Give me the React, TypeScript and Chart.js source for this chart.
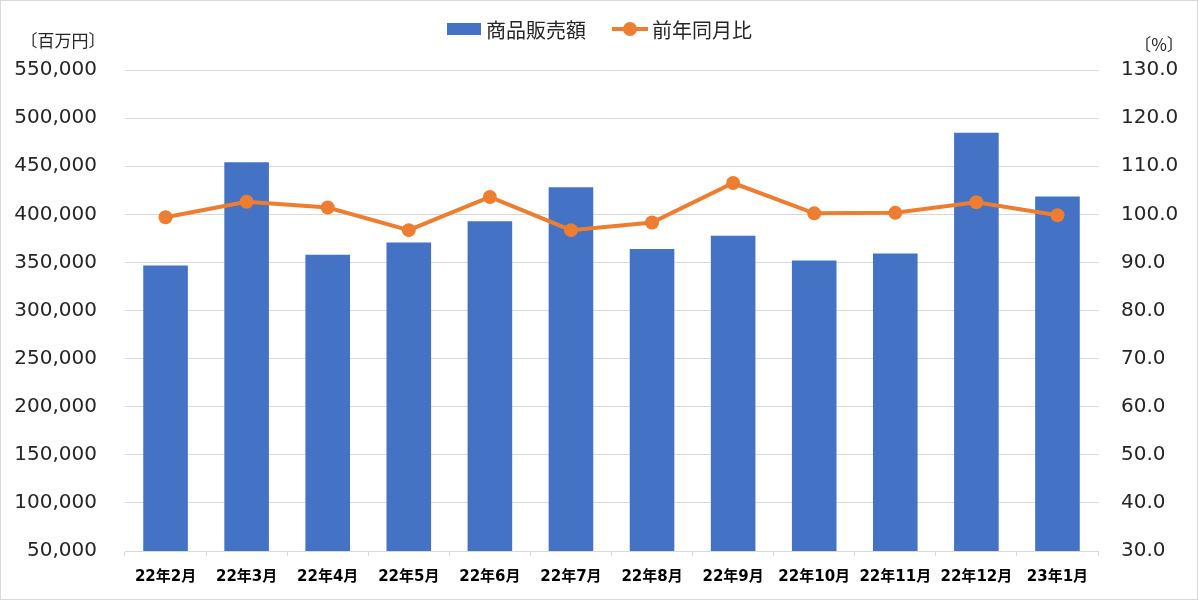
import React, { useEffect, useRef } from "react";
import { Chart, registerables } from "chart.js";

Chart.register(...registerables);

const categories = ["22年2月", "22年3月", "22年4月", "22年5月", "22年6月", "22年7月", "22年8月", "22年9月", "22年10月", "22年11月", "22年12月", "23年1月"];
const salesValues = [346900, 454000, 357900, 370800, 392900, 428000, 363800, 377600, 352100, 359300, 484800, 418600];
const yoyValues = [99.4, 102.6, 101.4, 96.7, 103.6, 96.7, 98.3, 106.5, 100.2, 100.3, 102.5, 99.8];
const salesLabel = "商品販売額";
const yoyLabel = "前年同月比";
const leftUnit = "〔百万円〕";
const rightUnit = "〔%〕";
const leftTicks = { min: 50000, max: 550000, step: 50000 };
const rightTicks = { min: 30, max: 130, step: 10 };

const BAR_COLOR = "#4472C4";
const LINE_COLOR = "#ED7D31";
const GRID_COLOR = "#d9d9d9";
const TEXT_COLOR = "#262626";
const CJK = "'Noto Sans CJK JP', 'DejaVu Sans', sans-serif";
const NUM = "'DejaVu Sans', 'Noto Sans CJK JP', sans-serif";

const decorPlugin = {
  id: "decor",
  afterDraw(chart: any) {
    const ctx = chart.ctx as CanvasRenderingContext2D;
    ctx.save();
    // outer border
    ctx.strokeStyle = GRID_COLOR;
    ctx.lineWidth = 1;
    ctx.strokeRect(0.5, 0.5, chart.width - 1, chart.height - 1);

    // unit labels
    ctx.fillStyle = TEXT_COLOR;
    ctx.font = `17px ${CJK}`;
    ctx.textBaseline = "middle";
    ctx.textAlign = "center";
    ctx.fillText(leftUnit, 63, 41);
    ctx.fillText(rightUnit, 1159, 45);

    // legend
    const ds = chart.data.datasets;
    const cy = 29;
    ctx.fillStyle = BAR_COLOR;
    ctx.fillRect(447, cy - 6, 34, 12);
    ctx.fillStyle = TEXT_COLOR;
    ctx.font = `20px ${CJK}`;
    ctx.textAlign = "left";
    ctx.fillText(ds[0].label, 486, cy + 1);

    ctx.strokeStyle = LINE_COLOR;
    ctx.lineWidth = 4;
    ctx.beginPath();
    ctx.moveTo(612, cy);
    ctx.lineTo(648, cy);
    ctx.stroke();
    ctx.fillStyle = LINE_COLOR;
    ctx.beginPath();
    ctx.arc(630, cy, 7, 0, Math.PI * 2);
    ctx.fill();
    ctx.fillStyle = TEXT_COLOR;
    ctx.fillText(ds[1].label, 652, cy + 1);
    ctx.restore();
  },
};

export default function App() {
  const canvasRef = useRef<HTMLCanvasElement | null>(null);

  useEffect(() => {
    document.body.style.margin = "0";
    const canvas = canvasRef.current;
    if (!canvas) return;
    const chart = new Chart(canvas, {
      type: "bar",
      data: {
        labels: categories,
        datasets: [
          {
            type: "bar",
            label: salesLabel,
            data: salesValues,
            backgroundColor: BAR_COLOR,
            borderWidth: 0,
            barPercentage: 0.55,
            categoryPercentage: 1.0,
            yAxisID: "y",
            order: 1,
          },
          {
            type: "line",
            label: yoyLabel,
            data: yoyValues,
            borderColor: LINE_COLOR,
            backgroundColor: LINE_COLOR,
            borderWidth: 4,
            pointRadius: 7,
            pointBackgroundColor: LINE_COLOR,
            pointBorderColor: LINE_COLOR,
            pointBorderWidth: 0,
            tension: 0,
            yAxisID: "y1",
            order: 0,
          },
        ],
      } as any,
      options: {
        animation: false,
        responsive: true,
        maintainAspectRatio: false,
        layout: { padding: { top: 70, left: 0, right: 0, bottom: 0 } },
        plugins: {
          legend: { display: false },
          tooltip: { enabled: false },
        },
        scales: {
          x: {
            grid: {
              display: true,
              drawOnChartArea: false,
              drawTicks: true,
              tickLength: 5,
              color: GRID_COLOR,
              offset: true,
            },
            border: { display: true, color: GRID_COLOR, width: 1 },
            ticks: {
              color: "#000000",
              font: { family: NUM, size: 15, weight: "bold" },
              padding: 12,
              maxRotation: 0,
              autoSkip: false,
            },
            afterFit: (s: any) => {
              s.height = 49;
            },
          },
          y: {
            position: "left",
            min: leftTicks.min,
            max: leftTicks.max,
            grid: { color: GRID_COLOR, drawTicks: false, lineWidth: 1 },
            border: { display: false },
            ticks: {
              stepSize: leftTicks.step,
              color: TEXT_COLOR,
              font: { family: NUM, size: 20 },
              padding: 28,
              callback: (v: any) => Number(v).toLocaleString("en-US"),
            },
            afterFit: (s: any) => {
              s.width = 125;
            },
          },
          y1: {
            position: "right",
            min: rightTicks.min,
            max: rightTicks.max,
            grid: { display: false, drawTicks: false },
            border: { display: false },
            ticks: {
              stepSize: rightTicks.step,
              color: TEXT_COLOR,
              font: { family: NUM, size: 20 },
              padding: 23,
              callback: (v: any) => Number(v).toFixed(1),
            },
            afterFit: (s: any) => {
              s.width = 100;
            },
          },
        },
      } as any,
      plugins: [decorPlugin],
    });
    return () => chart.destroy();
  }, []);

  return (
    <div style={{ width: "1198px", height: "600px", position: "relative" }}>
      <canvas ref={canvasRef} />
    </div>
  );
}
